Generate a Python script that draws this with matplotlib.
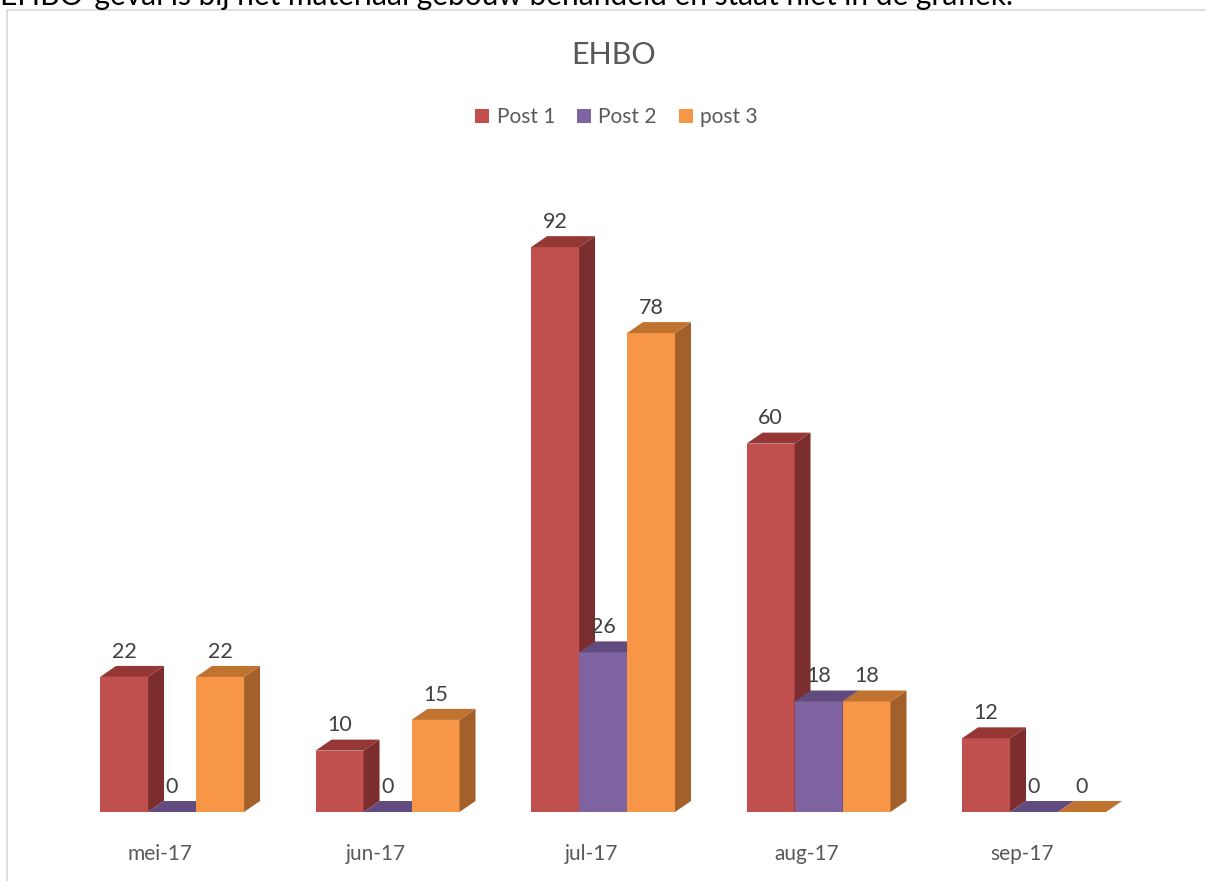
import numpy as np
import matplotlib.pyplot as plt
from matplotlib.patches import Polygon, Patch, Rectangle

plt.rcParams['font.family'] = ['Lato', 'DejaVu Sans']

months = ['mei-17', 'jun-17', 'jul-17', 'aug-17', 'sep-17']
series = ['Post 1', 'Post 2', 'post 3']
post1 = [22, 10, 92, 60, 12]
post2 = [0, 0, 26, 18, 0]
post3 = [22, 15, 78, 18, 0]

front_cols = ['#C0504D', '#8064A2', '#F79646']
top_cols = ['#953735', '#624B7E', '#C0722F']
side_cols = ['#7B2E2D', '#4F3C66', '#A4602A']

fig = plt.figure(figsize=(12.06, 8.81), dpi=100)
ax = fig.add_axes([0.01758, 0.07832, 0.9649, 0.6969])
ax.set_xlim(-0.7, 4.7)
ax.set_ylim(0, 100)
ax.axis('off')

bw = 0.2227   # bar width in group units
dx = 0.0742   # depth offset x
dy = 1.79     # depth offset y (value units)

values = [post1, post2, post3]
z = 1
for i, m in enumerate(months):
    for s in range(3):
        v = values[s][i]
        x0 = i - 1.5 * bw + s * bw
        x1 = x0 + bw
        front = Polygon([(x0, 0), (x1, 0), (x1, v), (x0, v)], closed=True,
                        facecolor=front_cols[s], edgecolor='none', zorder=z)
        side = Polygon([(x1, 0), (x1 + dx, dy), (x1 + dx, v + dy), (x1, v)], closed=True,
                       facecolor=side_cols[s], edgecolor='none', zorder=z)
        top = Polygon([(x0, v), (x1, v), (x1 + dx, v + dy), (x0 + dx, v + dy)], closed=True,
                      facecolor=top_cols[s], edgecolor='none', zorder=z)
        ax.add_patch(front)
        ax.add_patch(side)
        ax.add_patch(top)
        z += 1

for i in range(len(months)):
    for s in range(3):
        v = values[s][i]
        xc = i - 1.5 * bw + s * bw + bw / 2
        ax.text(xc, v + 4.1, str(v), ha='center', va='center', fontsize=15.5,
                color='#404040', zorder=100, clip_on=False)
    ax.text(i - 0.055, -6.8, months[i], ha='center', va='center', fontsize=15,
            color='#595959', clip_on=False)

fig.text(0.5085, 1 - 55 / 881, 'EHBO', ha='center', va='center', fontsize=22, color='#595959')

handles = [Patch(facecolor=c, edgecolor='none') for c in front_cols]
fig.legend(handles, series, loc='center', bbox_to_anchor=(616.5 / 1206, 1 - 117 / 881),
           ncol=3, frameon=False, fontsize=15, handlelength=0.67, handleheight=0.67,
           handletextpad=0.35, columnspacing=1.05, labelcolor='#595959')

# chart border (left and top edges visible)
fig.add_artist(Rectangle((6.5 / 1206, -0.01), 1.1, 1 - 10 / 881 + 0.01,
                         transform=fig.transFigure, fill=False, edgecolor='#D9D9D9', lw=1.2))

# sentence above the chart, cut off at the top edge as in the original screenshot
fig.text(0.0, 1 - 5 / 881, 'EHBO-geval is bij het materiaal gebouw behandeld en staat niet in de grafiek.',
         ha='left', va='baseline', fontsize=21.5, color='black')

fig.savefig('out.png', dpi=100)
